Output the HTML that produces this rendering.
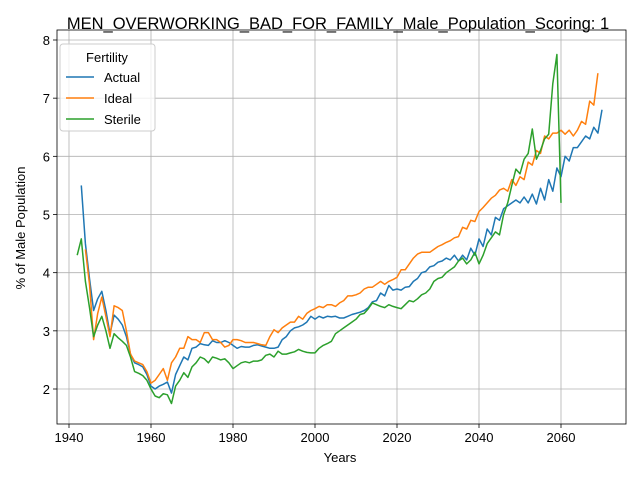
<!DOCTYPE html>
<html><head><meta charset="utf-8"><style>
body{margin:0;background:#fff}
svg{display:block;font-family:"Liberation Sans","DejaVu Sans",sans-serif}
</style></head><body>
<svg id="chart" width="640" height="480">
<rect width="640" height="480" fill="#fff"/>
<g id="grid"></g><g id="series"></g><g id="axes"></g>
<text x="338" y="29" text-anchor="middle" font-size="16.5">MEN_OVERWORKING_BAD_FOR_FAMILY_Male_Population_Scoring: 1</text>
<text x="340" y="462" text-anchor="middle" font-size="13">Years</text>
<text x="25" y="228" text-anchor="middle" font-size="13" transform="rotate(-90 25 228)">% of Male Population</text>
<g>
<rect x="60" y="44" width="95" height="87" rx="3" fill="#fff" fill-opacity="0.8" stroke="#ccc"/>
<text x="107" y="62" text-anchor="middle" font-size="13">Fertility</text>
<g><line x1="66" x2="94" y1="77" y2="77" stroke="#1f77b4" stroke-width="1.5"/><text x="104" y="82" font-size="13">Actual</text></g>
<g><line x1="66" x2="94" y1="98" y2="98" stroke="#ff7f0e" stroke-width="1.5"/><text x="104" y="103" font-size="13">Ideal</text></g>
<g><line x1="66" x2="94" y1="119" y2="119" stroke="#2ca02c" stroke-width="1.5"/><text x="104" y="124" font-size="13">Sterile</text></g>
</g>
</svg>
<script>
const xTicks=[1940,1960,1980,2000,2020,2040,2060];
const yTicks=[2,3,4,5,6,7,8];
const actualStart=1943;
const actualValues=[5.5,4.5,3.9,3.35,3.55,3.68,3.35,2.95,3.27,3.2,3.1,2.9,2.6,2.45,2.42,2.38,2.25,2.05,2.0,2.05,2.08,2.12,1.93,2.25,2.4,2.55,2.5,2.7,2.72,2.78,2.76,2.75,2.83,2.8,2.8,2.83,2.8,2.75,2.7,2.73,2.72,2.72,2.75,2.76,2.74,2.72,2.7,2.7,2.72,2.85,2.9,3.0,3.05,3.07,3.1,3.15,3.25,3.2,3.25,3.22,3.25,3.24,3.25,3.22,3.22,3.25,3.28,3.3,3.32,3.35,3.4,3.5,3.52,3.65,3.6,3.78,3.7,3.72,3.7,3.75,3.76,3.85,3.9,4.0,4.02,4.1,4.12,4.18,4.2,4.25,4.22,4.3,4.2,4.3,4.22,4.42,4.3,4.58,4.45,4.75,4.65,4.95,4.9,5.1,5.15,5.2,5.25,5.2,5.3,5.2,5.35,5.18,5.45,5.25,5.6,5.4,5.8,5.65,6.0,5.92,6.15,6.15,6.25,6.35,6.3,6.5,6.4,6.8];
const idealStart=1944;
const idealValues=[4.4,3.8,2.85,3.3,3.58,3.25,2.9,3.43,3.4,3.35,3.0,2.6,2.48,2.45,2.42,2.3,2.1,2.15,2.25,2.35,2.15,2.45,2.55,2.7,2.7,2.9,2.85,2.85,2.8,2.97,2.97,2.85,2.85,2.8,2.72,2.75,2.85,2.85,2.83,2.8,2.8,2.8,2.78,2.76,2.75,2.9,3.02,2.97,3.05,3.1,3.15,3.15,3.25,3.2,3.3,3.35,3.38,3.42,3.4,3.45,3.45,3.42,3.48,3.52,3.6,3.6,3.62,3.65,3.72,3.75,3.75,3.8,3.85,3.8,3.85,3.88,3.92,4.05,4.05,4.15,4.25,4.32,4.35,4.35,4.35,4.4,4.45,4.48,4.52,4.55,4.6,4.62,4.78,4.75,4.9,4.88,5.05,5.12,5.2,5.28,5.33,5.42,5.45,5.4,5.6,5.5,5.65,5.6,5.9,5.85,6.1,6.05,6.35,6.3,6.4,6.4,6.45,6.38,6.45,6.35,6.45,6.6,6.55,6.95,6.88,7.43];
const sterileStart=1942;
const sterileValues=[4.3,4.58,3.85,3.4,2.9,3.1,3.25,3.0,2.7,2.95,2.88,2.82,2.75,2.55,2.3,2.27,2.23,2.15,2.0,1.88,1.85,1.92,1.9,1.75,2.05,2.15,2.28,2.2,2.38,2.45,2.55,2.52,2.45,2.55,2.53,2.5,2.52,2.45,2.35,2.4,2.45,2.47,2.45,2.48,2.48,2.5,2.58,2.6,2.55,2.65,2.6,2.6,2.62,2.64,2.68,2.65,2.63,2.62,2.62,2.7,2.75,2.78,2.82,2.95,3.0,3.05,3.1,3.15,3.2,3.28,3.3,3.38,3.48,3.45,3.42,3.4,3.45,3.42,3.4,3.38,3.45,3.52,3.5,3.55,3.62,3.65,3.72,3.85,3.9,3.92,4.0,4.05,4.1,4.2,4.25,4.15,4.22,4.35,4.15,4.3,4.5,4.6,4.7,4.65,5.0,5.2,5.5,5.78,5.7,5.95,6.05,6.47,5.95,6.1,6.3,6.38,7.25,7.75,5.2];
const L=57,R=626,T=30,B=424;
function xs(v){return 69+(v-1940)*(233-69)/40;}
function ys(v){return 389-(v-2)*(389-40)/6;}
const NS="http://www.w3.org/2000/svg";
const grid=document.getElementById('grid'),axes=document.getElementById('axes'),ser=document.getElementById('series');
function mk(t,a,p){const e=document.createElementNS(NS,t);for(const k in a)e.setAttribute(k,a[k]);p.appendChild(e);return e;}
xTicks.forEach(v=>{const x=xs(v);
const g=mk('line',{x1:x,x2:x,y1:T,y2:B,stroke:'#b0b0b0','stroke-width':0.8},grid);


mk('line',{x1:x,x2:x,y1:B,y2:B+4,stroke:'#000','stroke-width':0.8},axes);
const t=mk('text',{x:x,y:B+18,'text-anchor':'middle','font-size':13},axes);t.textContent=v;

});
yTicks.forEach(v=>{const y=ys(v);
const g=mk('line',{x1:L,x2:R,y1:y,y2:y,stroke:'#b0b0b0','stroke-width':0.8},grid);


mk('line',{x1:L-4,x2:L,y1:y,y2:y,stroke:'#000','stroke-width':0.8},axes);
const t=mk('text',{x:L-7,y:y+5,'text-anchor':'end','font-size':13},axes);t.textContent=v;

});
const fr=mk('rect',{x:L,y:T,width:R-L,height:B-T,fill:'none',stroke:'#000','stroke-width':0.8},axes);


function line(start,vals,color,name){
const d=vals.map((v,i)=>(i?'L':'M')+xs(start+i).toFixed(1)+','+ys(v).toFixed(1)).join('');
const p=mk('path',{d:d,fill:'none',stroke:color,'stroke-width':1.5,'stroke-linejoin':'round'},ser);

}
line(actualStart,actualValues,'#1f77b4','actual-line');
line(idealStart,idealValues,'#ff7f0e','ideal-line');
line(sterileStart,sterileValues,'#2ca02c','sterile-line');
</script>
</body></html>
